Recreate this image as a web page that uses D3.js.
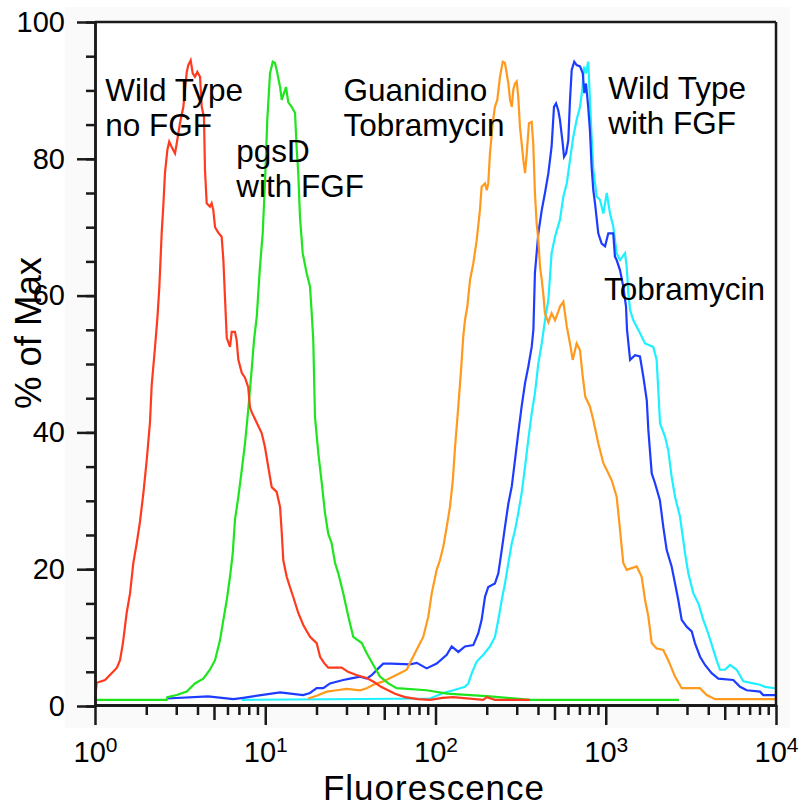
<!DOCTYPE html>
<html><head><meta charset="utf-8">
<script src="https://cdn.jsdelivr.net/npm/d3@7/dist/d3.min.js"></script>
<style>
body{margin:0;background:#fff;}
svg{display:block;font-family:"Liberation Sans",Arial,Helvetica,sans-serif;}
</style>
</head><body>
<svg id="chart" width="804" height="808"></svg>
<script>
// ---- data: each point is [log10(fluorescence), % of max] ----
const yTicks = [0, 20, 40, 60, 80, 100];
const xDecades = [0, 1, 2, 3, 4];

const wildTypeNoFGF = [
[0.00,0.9],[0.010,3.4],[0.059,3.8],[0.129,5.6],[0.147,6.7],[0.164,9.2],[0.186,13.6],[0.206,16.5],
[0.225,20.9],[0.245,23.8],[0.264,26.9],[0.284,31.1],[0.304,36.0],[0.323,41.5],[0.333,46.9],[0.352,52.3],
[0.367,56.9],[0.378,61.3],[0.392,69.3],[0.401,73.0],[0.411,77.9],[0.425,81.3],[0.436,82.5],[0.451,81.7],
[0.470,80.8],[0.483,82.7],[0.499,85.2],[0.519,87.6],[0.539,92.7],[0.548,93.7],[0.562,94.4],[0.574,92.5],
[0.587,92.0],[0.601,92.7],[0.617,92.0],[0.627,87.6],[0.640,86.1],[0.646,78.4],[0.656,73.5],[0.675,73.0],
[0.685,73.5],[0.695,72.5],[0.705,70.0],[0.724,69.2],[0.744,68.6],[0.754,65.2],[0.764,59.4],[0.774,53.8],
[0.793,52.5],[0.803,54.7],[0.822,54.7],[0.832,53.5],[0.842,50.6],[0.862,48.7],[0.881,48.0],[0.900,46.6],
[0.910,43.7],[0.920,43.0],[0.950,41.4],[0.979,39.9],[0.998,37.9],[1.018,34.9],[1.038,32.0],[1.067,31.3],
[1.087,29.1],[1.097,25.3],[1.106,21.3],[1.126,18.9],[1.145,17.4],[1.165,15.9],[1.194,13.6],[1.224,11.8],
[1.263,10.1],[1.302,9.2],[1.322,7.2],[1.345,6.3],[1.370,5.6],[1.449,5.6],[1.486,5.0],[1.539,4.5],
[1.596,4.1],[1.639,3.5],[1.680,2.8],[1.721,2.3],[1.762,1.8],[1.821,1.3],[1.897,1.0],[1.968,0.9],
[2.040,1.2],[2.103,1.3],[2.280,0.9],[2.302,1.3],[2.349,0.9],[2.555,0.9]
];

const pgsDWithFGF = [
[0.006,0.9],[0.421,0.9],[0.425,1.3],[0.480,1.6],[0.539,2.1],[0.587,3.3],[0.636,4.0],[0.675,5.3],
[0.705,6.7],[0.734,9.6],[0.754,12.6],[0.774,15.5],[0.793,18.9],[0.809,22.3],[0.822,27.2],[0.842,30.6],
[0.862,34.5],[0.881,38.4],[0.900,43.3],[0.920,49.1],[0.934,53.5],[0.950,56.9],[0.969,64.2],[0.985,69.1],
[0.999,76.9],[1.012,85.7],[1.028,92.5],[1.044,94.2],[1.057,94.0],[1.067,93.0],[1.087,90.5],[1.097,88.6],
[1.110,89.6],[1.122,90.5],[1.135,88.3],[1.155,87.6],[1.175,86.7],[1.185,81.3],[1.194,77.9],[1.204,71.5],
[1.220,66.2],[1.243,63.3],[1.263,61.3],[1.273,57.4],[1.282,53.5],[1.292,42.3],[1.312,36.9],[1.332,32.6],
[1.351,28.2],[1.370,25.2],[1.390,23.8],[1.410,20.9],[1.429,19.4],[1.458,16.5],[1.488,13.1],[1.517,10.1],
[1.567,9.2],[1.596,7.7],[1.635,6.0],[1.674,4.3],[1.723,3.3],[1.772,2.6],[1.948,2.3],[2.068,1.8],
[2.320,1.4],[2.555,0.9],[3.430,0.9]
];

const guanidinoTobramycin = [
[1.253,1.1],[1.302,1.5],[1.361,2.1],[1.420,2.3],[1.478,2.5],[1.557,2.3],[1.596,2.6],[1.635,3.1],
[1.693,3.6],[1.752,4.3],[1.791,4.8],[1.831,5.3],[1.850,6.3],[1.899,8.7],[1.928,10.1],[1.958,13.1],
[1.978,16.5],[2.007,19.9],[2.026,21.3],[2.046,23.3],[2.066,26.2],[2.085,29.1],[2.101,32.8],[2.115,37.9],
[2.134,43.8],[2.150,49.1],[2.163,54.0],[2.173,56.4],[2.187,58.4],[2.203,62.3],[2.222,64.7],[2.242,68.1],
[2.261,72.5],[2.271,75.9],[2.291,76.4],[2.301,75.4],[2.310,76.4],[2.320,80.8],[2.336,85.2],[2.349,87.6],
[2.363,88.6],[2.379,92.0],[2.395,94.2],[2.408,94.0],[2.418,92.5],[2.428,91.0],[2.438,88.6],[2.448,87.6],
[2.457,90.1],[2.467,91.0],[2.477,91.3],[2.486,89.1],[2.496,84.7],[2.506,82.3],[2.516,79.8],[2.526,77.9],
[2.536,80.8],[2.549,85.2],[2.565,85.4],[2.574,82.3],[2.584,75.0],[2.594,70.6],[2.604,68.1],[2.614,64.2],
[2.624,62.3],[2.633,60.3],[2.643,57.4],[2.663,56.1],[2.682,57.4],[2.702,56.4],[2.720,57.6],[2.731,58.4],
[2.751,59.1],[2.771,55.5],[2.790,53.0],[2.806,50.6],[2.829,53.0],[2.849,52.0],[2.865,48.1],[2.880,45.2],
[2.907,43.8],[2.927,41.8],[2.956,38.4],[2.986,35.5],[3.006,34.5],[3.035,33.0],[3.064,30.6],[3.084,25.7],
[3.103,20.9],[3.123,19.9],[3.182,20.4],[3.211,18.9],[3.231,15.5],[3.250,13.1],[3.270,9.2],[3.299,8.4],
[3.338,8.2],[3.367,6.7],[3.407,4.3],[3.446,2.6],[3.553,2.6],[3.593,1.6],[3.642,1.0],[3.994,1.0]
];

const tobramycin = [
[0.421,1.1],[0.664,1.4],[0.812,1.0],[0.871,1.2],[1.087,2.0],[1.222,1.6],[1.263,1.9],[1.302,2.6],
[1.341,2.6],[1.380,3.3],[1.458,3.8],[1.498,4.0],[1.557,4.3],[1.596,4.0],[1.625,4.5],[1.664,5.5],
[1.693,6.2],[1.739,6.2],[1.850,6.1],[1.890,6.3],[1.948,5.5],[2.007,6.2],[2.066,7.5],[2.095,8.7],
[2.134,7.9],[2.173,8.7],[2.222,8.9],[2.251,10.6],[2.271,12.6],[2.291,16.0],[2.310,17.4],[2.349,17.9],
[2.369,19.4],[2.389,22.8],[2.408,26.2],[2.428,29.6],[2.448,32.1],[2.467,36.0],[2.486,39.9],[2.506,43.8],
[2.526,47.2],[2.545,49.6],[2.565,52.5],[2.575,55.0],[2.584,63.3],[2.604,69.1],[2.624,72.5],[2.643,75.0],
[2.663,77.9],[2.682,81.8],[2.696,87.6],[2.708,88.1],[2.721,87.1],[2.731,85.7],[2.747,82.3],[2.755,80.3],
[2.767,80.8],[2.780,82.7],[2.790,88.6],[2.800,93.0],[2.815,94.2],[2.829,93.7],[2.849,93.5],[2.865,92.5],
[2.874,89.6],[2.884,91.0],[2.897,87.6],[2.907,84.2],[2.917,78.8],[2.927,75.4],[2.937,73.5],[2.956,69.1],
[2.976,67.6],[2.996,67.2],[3.015,69.1],[3.044,69.1],[3.054,65.7],[3.064,65.2],[3.084,63.7],[3.103,61.3],
[3.119,58.4],[3.125,55.0],[3.143,50.6],[3.172,51.3],[3.201,51.1],[3.221,48.1],[3.241,44.7],[3.250,40.4],
[3.270,34.0],[3.289,32.6],[3.318,30.1],[3.338,26.2],[3.358,22.8],[3.387,20.4],[3.407,17.9],[3.426,15.5],
[3.446,12.6],[3.475,11.6],[3.505,10.9],[3.524,9.2],[3.554,7.2],[3.583,6.0],[3.622,4.8],[3.661,4.0],
[3.749,3.8],[3.789,2.8],[3.828,2.3],[3.906,2.1],[3.925,1.6],[3.994,1.6]
];

const wildTypeWithFGF = [
[0.862,0.9],[1.968,1.1],[2.046,1.9],[2.105,2.3],[2.173,2.8],[2.193,3.3],[2.213,4.8],[2.242,6.5],
[2.281,7.5],[2.320,8.7],[2.349,10.1],[2.369,12.6],[2.389,15.5],[2.408,17.9],[2.428,20.9],[2.448,23.8],
[2.467,25.7],[2.486,28.2],[2.506,31.1],[2.526,35.0],[2.545,38.9],[2.565,42.8],[2.584,45.7],[2.604,50.1],
[2.624,53.0],[2.643,56.4],[2.663,59.4],[2.682,66.2],[2.702,68.6],[2.731,71.1],[2.751,74.5],[2.771,76.4],
[2.790,79.8],[2.809,83.2],[2.829,85.7],[2.849,87.6],[2.862,90.1],[2.872,93.5],[2.884,92.5],[2.897,94.2],
[2.903,91.0],[2.910,87.1],[2.917,83.2],[2.927,78.4],[2.947,74.5],[2.966,74.0],[2.986,72.0],[3.006,75.0],
[3.025,72.0],[3.044,70.1],[3.064,66.2],[3.084,65.2],[3.113,66.2],[3.123,64.2],[3.133,60.3],[3.143,57.9],
[3.162,56.4],[3.191,55.0],[3.231,53.0],[3.279,52.5],[3.299,50.6],[3.319,41.3],[3.348,39.4],[3.367,37.4],
[3.387,33.5],[3.407,30.6],[3.436,27.7],[3.466,22.3],[3.485,19.4],[3.514,16.5],[3.544,15.0],[3.573,12.6],
[3.602,10.6],[3.632,8.2],[3.651,6.7],[3.671,5.3],[3.700,5.3],[3.730,6.0],[3.769,5.3],[3.808,3.6],
[3.867,3.3],[3.906,3.1],[3.935,2.8],[3.994,2.6]
];

const seriesNames = ["Wild Type with FGF", "Tobramycin", "Guanidino Tobramycin", "pgsD with FGF", "Wild Type no FGF"];
const seriesColors = ["#1ef0ff", "#1e3cff", "#ff9a1e", "#1ee51e", "#ff3a1e"];
const seriesData = [wildTypeWithFGF, tobramycin, guanidinoTobramycin, pgsDWithFGF, wildTypeNoFGF];

const annotations = [
  {lines: ["Wild Type", "no FGF"], at: [0.06, 88.5]},
  {lines: ["pgsD", "with FGF"], at: [0.83, 79.5]},
  {lines: ["Guanidino", "Tobramycin"], at: [1.46, 88.5]},
  {lines: ["Wild Type", "with FGF"], at: [3.015, 88.7]},
  {lines: ["Tobramycin"], at: [2.99, 59.4]}
];

// ---- drawing ----
const svg = d3.select("#chart");
const W = 804, H = 808;
const x = d3.scaleLog().domain([1, 1e4]).range([95, 776]);
const y = d3.scaleLinear().domain([0, 100]).range([706, 22]);

svg.append("rect").attr("width", W).attr("height", H).attr("fill", "#fff");
svg.append("rect").attr("x", 65).attr("y", 7).attr("width", 725).attr("height", 721).attr("fill", "#fafafa");
svg.append("rect").attr("x", 95).attr("y", 22).attr("width", 681).attr("height", 684).attr("fill", "#fff");

const line = d3.line().x(d => x(Math.pow(10, d[0]))).y(d => y(d[1]));
const plot = svg.append("g");
seriesData.forEach((data, i) => {
  plot.append("path").datum(data)
    .attr("d", line)
    .attr("fill", "none")
    .attr("stroke", seriesColors[i])
    .attr("stroke-width", 2.2)
    .attr("stroke-linejoin", "miter");
});

const axisColor = "#1a1a1a";
// frame: top and right
svg.append("line").attr("x1", x(1)).attr("x2", x(1e4)).attr("y1", y(100)).attr("y2", y(100))
  .attr("stroke", axisColor).attr("stroke-width", 2.5);
svg.append("line").attr("x1", x(1e4)).attr("x2", x(1e4)).attr("y1", y(100)).attr("y2", y(0))
  .attr("stroke", axisColor).attr("stroke-width", 2.5);

// y axis minor
const yMinor = d3.range(0, 101, 5);
svg.append("g").attr("transform", `translate(${x(1)},0)`)
  .call(d3.axisLeft(y).tickValues(yMinor).tickSize(9).tickSizeOuter(0).tickFormat(""))
  .call(g => g.selectAll("line,path").attr("stroke", axisColor).attr("stroke-width", 2.5));
// y axis major
svg.append("g").attr("transform", `translate(${x(1)},0)`)
  .call(d3.axisLeft(y).tickValues(yTicks).tickSize(18).tickSizeOuter(0).tickPadding(12))
  .call(g => g.selectAll("line,path").attr("stroke", axisColor).attr("stroke-width", 2.5))
  .call(g => g.selectAll("text").attr("font-size", 29).attr("fill", "#000")
        .attr("font-family", '"Liberation Sans", Arial, sans-serif'));

// x axis minor ticks
const xMinor = [], xMid = [];
for (let e = 0; e < 4; e++) for (let k = 2; k <= 9; k++) (k === 5 ? xMid : xMinor).push(k * Math.pow(10, e));
const xAxisY = 705;
svg.append("g").attr("transform", `translate(0,${xAxisY})`)
  .call(d3.axisBottom(x).tickValues(xMinor).tickSize(10).tickSizeOuter(0).tickFormat(""))
  .call(g => g.selectAll("line,path").attr("stroke", axisColor).attr("stroke-width", 2.5));
svg.append("g").attr("transform", `translate(0,${xAxisY})`)
  .call(d3.axisBottom(x).tickValues(xMid).tickSize(15).tickSizeOuter(0).tickFormat(""))
  .call(g => g.selectAll("line,path").attr("stroke", axisColor).attr("stroke-width", 2.5));
const xMajorVals = xDecades.map(e => Math.pow(10, e));
const xa = svg.append("g").attr("transform", `translate(0,${xAxisY})`)
  .call(d3.axisBottom(x).tickValues(xMajorVals).tickSize(20).tickSizeOuter(0).tickFormat(""))
  .call(g => g.selectAll("line,path").attr("stroke", axisColor).attr("stroke-width", 2.5));
xa.selectAll(".tick").each(function(d, i) {
  const t = d3.select(this).append("text")
    .attr("y", 57).attr("text-anchor", "middle").attr("fill", "#000")
    .attr("font-size", 29).attr("font-family", '"Liberation Sans", Arial, sans-serif');
  t.append("tspan").text("10");
  t.append("tspan").attr("dy", -10).attr("font-size", 21).text(String(xDecades[i]));
});

// axis titles
svg.append("text").attr("x", 434).attr("y", 800).attr("text-anchor", "middle")
  .attr("font-size", 35).attr("letter-spacing", 1).attr("fill", "#000").text("Fluorescence");
svg.append("text").attr("transform", "translate(41,333) rotate(-90)").attr("text-anchor", "middle")
  .attr("font-size", 36.5).attr("fill", "#000").text("% of Max");

// annotations
annotations.forEach(a => {
  const t = svg.append("text").attr("font-size", 31.5).attr("fill", "#000")
    .attr("x", x(Math.pow(10, a.at[0]))).attr("y", y(a.at[1]));
  a.lines.forEach((s, j) => t.append("tspan").attr("x", x(Math.pow(10, a.at[0])))
    .attr("dy", j === 0 ? 0 : 35).text(s));
});
</script>
</body></html>
